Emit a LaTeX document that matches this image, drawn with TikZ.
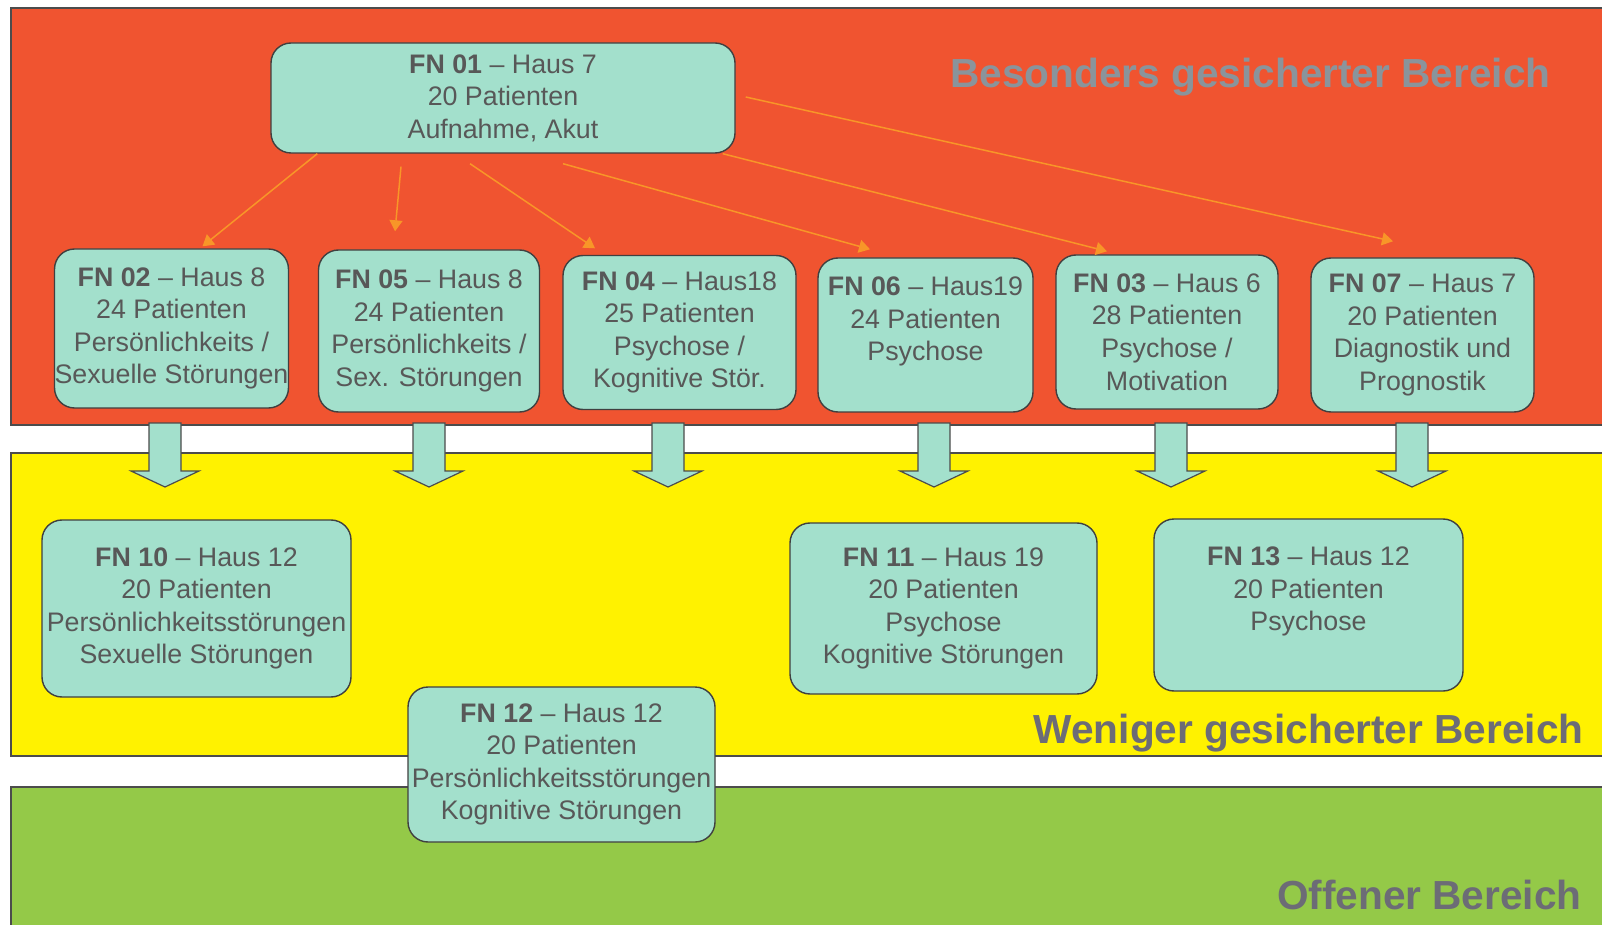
\documentclass[tikz,border=0pt]{standalone}
\usepackage{fontspec}
\setmainfont{Liberation Sans}
\usetikzlibrary{calc, arrows.meta}

\definecolor{zonered}{RGB}{240,84,48}
\definecolor{zoneyellow}{RGB}{255,242,0}
\definecolor{zonegreen}{RGB}{148,201,72}
\definecolor{wardfill}{RGB}{163,224,204}
\definecolor{wardtext}{RGB}{88,88,88}
\definecolor{feedorange}{RGB}{248,150,40}
\definecolor{redlabelgray}{RGB}{138,148,155}
\definecolor{labelgray}{RGB}{108,108,118}

\tikzset{
	ward/.style={draw=black!75, line width=0.7pt, fill=wardfill, rounded corners=10pt,
		align=center, text=wardtext, inner xsep=0pt, inner ysep=2pt,
		font=\fontsize{13.4}{16.3}\selectfont,
		execute at begin node={\rule{0pt}{13pt}}},
	zone/.style={draw=black!70, line width=0.7pt},
	feed/.style={feedorange, line width=0.75pt, -{Triangle[width=6.5pt, length=5.5pt]}},
	drop/.style={draw=black!70, line width=0.6pt, fill=wardfill},
	zonelabel/.style={anchor=base east, inner sep=0pt, font=\fontsize{20.3}{24}\selectfont\bfseries}
}

\begin{document}
\begin{tikzpicture}[x=0.5pt, y=-0.5pt]
	\useasboundingbox (0,0) rectangle (1602,925);
	\clip (0,0) rectangle (1602,925);
	\fill[white] (0,0) rectangle (1602,925);
	
	% zones
	\draw[zone, fill=zonered] (11,8) rectangle (1620,425);
	\draw[zone, fill=zoneyellow] (11,453) rectangle (1620,756);
	\draw[zone, fill=zonegreen] (11,787) rectangle (1620,940);
	
	\node[zonelabel, text=redlabelgray] (redlabel) at (1551,88) {Besonders gesicherter Bereich};
	\node[zonelabel, text=labelgray] (yellowlabel) at (1584,743) {Weniger gesicherter Bereich};
	\node[zonelabel, text=labelgray] (greenlabel) at (1582,909) {Offener Bereich};
	
	% transfer arrows
	\foreach \x in {165,429,668,934,1171,1412}
	{
		\draw[drop] (\x-16,423) -- (\x+16,423) -- (\x+16,471) -- (\x+34,471)
			-- (\x,487) -- (\x-34,471) -- (\x-16,471) -- cycle;
	}
	
	% wards
	\node[ward, minimum width=232pt, minimum height=55pt] (fn01) at (503,98)
		{\textbf{FN 01} – Haus 7\\20 Patienten\\Aufnahme, Akut};
	
	\node[ward, minimum width=116.5pt, minimum height=79.5pt] (fn02) at (171.5,328.5)
		{\textbf{FN 02} – Haus 8\\24 Patienten\\Persönlichkeits /\\Sexuelle Störungen};
	\node[ward, minimum width=110.5pt, minimum height=81pt] (fn05) at (429,331)
		{\textbf{FN 05} – Haus 8\\24 Patienten\\Persönlichkeits /\\Sex. Störungen};
	\node[ward, minimum width=116.5pt, minimum height=77pt] (fn04) at (679.5,332.5)
		{\textbf{FN 04} – Haus18\\25 Patienten\\Psychose /\\Kognitive Stör.};
	\node[ward, minimum width=107.5pt, minimum height=77pt] (fn06) at (925.5,335)
		{\textbf{FN 06} – Haus19\\24 Patienten\\Psychose\\\mbox{}};
	\node[ward, minimum width=111pt, minimum height=77pt] (fn03) at (1167,332)
		{\textbf{FN 03} – Haus 6\\28 Patienten\\Psychose /\\Motivation};
	\node[ward, minimum width=111.5pt, minimum height=77pt] (fn07) at (1422.5,335)
		{\textbf{FN 07} – Haus 7\\20 Patienten\\Diagnostik und\\Prognostik};
	
	\node[ward, minimum width=154.5pt, minimum height=88.5pt] (fn10) at (196.5,608.5)
		{\textbf{FN 10} – Haus 12\\20 Patienten\\Persönlichkeitsstörungen\\Sexuelle Störungen};
	\node[ward, minimum width=153.5pt, minimum height=85.5pt] (fn11) at (943.5,608.5)
		{\textbf{FN 11} – Haus 19\\20 Patienten\\Psychose\\Kognitive Störungen};
	\node[ward, minimum width=154.5pt, minimum height=86pt] (fn13) at (1308.5,605)
		{\textbf{FN 13} – Haus 12\\20 Patienten\\Psychose\\\mbox{}};
	\node[ward, minimum width=153.5pt, minimum height=77.5pt] (fn12) at (561.5,764.5)
		{\textbf{FN 12} – Haus 12\\20 Patienten\\Persönlichkeitsstörungen\\Kognitive Störungen};
	
	% admissions from FN 01
	\draw[feed] ($(fn01.south west)+(47,0)$) -- ($(fn02.north)+(31,-2)$);
	\draw[feed] ($(fn01.south)+(-102,13)$) -- ($(fn05.north)+(-34,-18)$);
	\draw[feed] ($(fn01.south)+(-33,10)$) -- ($(fn04.north)+(-84.5,-6.5)$);
	\draw[feed] ($(fn01.south)+(60,10)$) -- ($(fn06.north)+(-55.5,-8)$);
	\draw[feed] ($(fn01.south east)+(-13,0)$) -- ($(fn03.north)+(-60,-3)$);
	\draw[feed] ($(fn01.east)+(10,-1)$) -- ($(fn07.north)+(-29.5,-16)$);
\end{tikzpicture}
\end{document}
